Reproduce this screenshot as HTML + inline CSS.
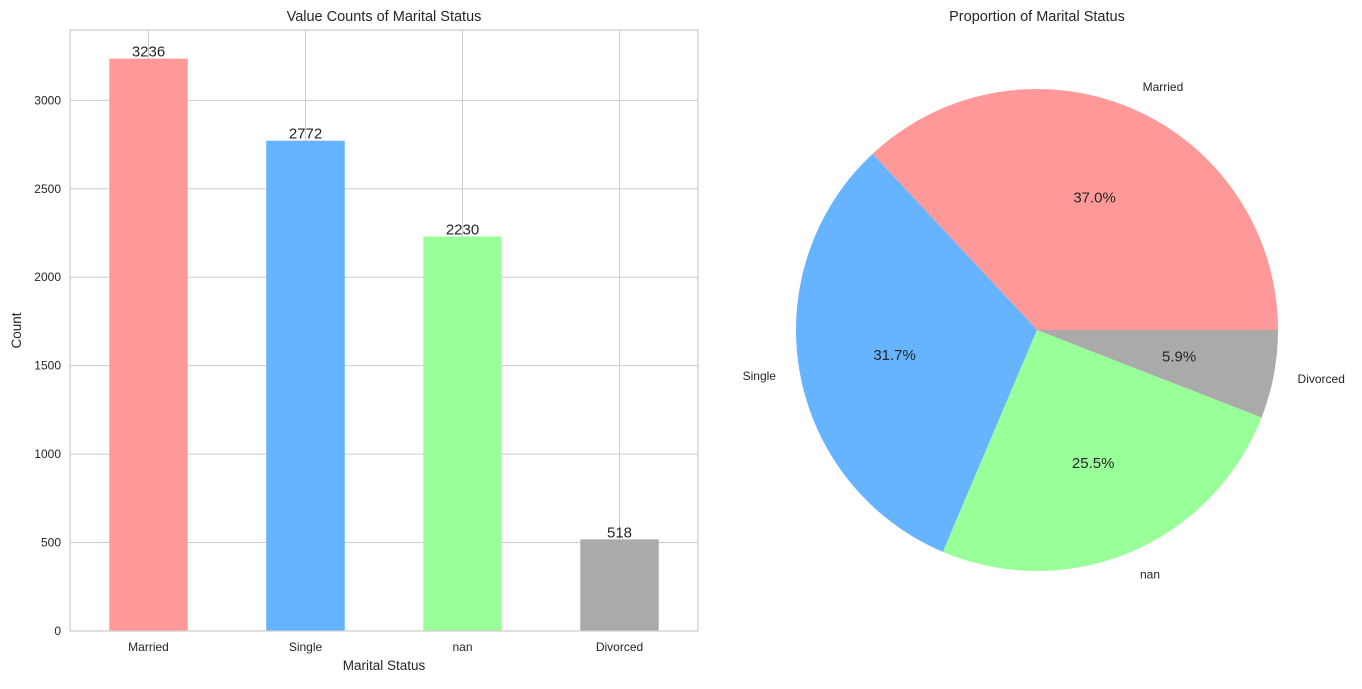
<!DOCTYPE html>
<html><head><meta charset="utf-8"><style>
body{margin:0;background:#fff;font-family:"Liberation Sans",sans-serif}
svg text{font-family:"Liberation Sans",sans-serif}
</style></head><body>
<svg id="s" width="1362" height="684" xmlns="http://www.w3.org/2000/svg"></svg>
<script>
const categories=["Married","Single","nan","Divorced"];
const counts=[3236,2772,2230,518];
const colors=["#ff9999","#66b3ff","#99ff99","#aaaaaa"];
const yTicks=[0,500,1000,1500,2000,2500,3000];
const NS="http://www.w3.org/2000/svg";
const s=document.getElementById('s');
function mk(t,a,txt){const e=document.createElementNS(NS,t);for(const k in a)e.setAttribute(k,a[k]);if(txt!==undefined)e.textContent=txt;s.appendChild(e);return e;}
const L=70,R=698,T=30,B=631;
const ymax=Math.max(...counts)*1.05;
const y=v=>B-(B-T)*v/ymax;
const x=i=>L+(R-L)*(i+0.5)/categories.length;
const bw=(R-L)/categories.length*0.5;
let e;
e=mk('rect',{x:L,y:T,width:R-L,height:B-T,fill:'#fff'});


yTicks.forEach(t=>{
 e=mk('line',{x1:L,x2:R,y1:y(t),y2:y(t),stroke:'#cccccc','stroke-width':1});
 
 
 e=mk('text',{x:L-9,y:y(t)+4,'text-anchor':'end','font-size':12,fill:'#262626'},t);
 
 
});
categories.forEach((c,i)=>{
 e=mk('line',{x1:x(i),x2:x(i),y1:T,y2:B,stroke:'#cccccc','stroke-width':1});
 
 
});
categories.forEach((c,i)=>{
 e=mk('rect',{x:x(i)-bw/2,y:y(counts[i]),width:bw,height:B-y(counts[i]),fill:colors[i]});
 
 
 e=mk('text',{x:x(i),y:y(counts[i])-2,'text-anchor':'middle','font-size':15,fill:'#262626'},counts[i]);
 
 
 e=mk('text',{x:x(i),y:B+20,'text-anchor':'middle','font-size':12,fill:'#262626'},c);
 
 
});
e=mk('rect',{x:L,y:T,width:R-L,height:B-T,fill:'none',stroke:'#cccccc','stroke-width':1.2});


e=mk('text',{x:(L+R)/2,y:21,'text-anchor':'middle','font-size':14.5,fill:'#262626'},'Value Counts of Marital Status');


e=mk('text',{x:(L+R)/2,y:670,'text-anchor':'middle','font-size':13.5,fill:'#262626'},'Marital Status');


e=mk('text',{x:21,y:(T+B)/2,'text-anchor':'middle','font-size':13.5,fill:'#262626',transform:'rotate(-90 21 '+(T+B)/2+')'},'Count');


// pie
const cx=1037,cy=330,r=241;
const total=counts.reduce((a,b)=>a+b,0);
let a0=0;
categories.forEach((c,i)=>{
 const frac=counts[i]/total,a1=a0+frac*2*Math.PI;
 const p=a=>[cx+r*Math.cos(a),cy-r*Math.sin(a)];
 const [x0,y0]=p(a0),[x1,y1]=p(a1);
 e=mk('path',{d:`M${cx},${cy}L${x0},${y0}A${r},${r} 0 ${frac>0.5?1:0} 0 ${x1},${y1}Z`,fill:colors[i]});
 
 
 const m=(a0+a1)/2,cs=Math.cos(m),sn=Math.sin(m);
 e=mk('text',{x:cx+1.1*r*cs,y:cy-1.1*r*sn+4,'text-anchor':cs>0?'start':'end','font-size':12,fill:'#262626'},c);
 
 
 e=mk('text',{x:cx+0.6*r*cs,y:cy-0.6*r*sn+5,'text-anchor':'middle','font-size':15,fill:'#262626'},(frac*100).toFixed(1)+'%');
 
 
 a0=a1;
});
e=mk('text',{x:cx,y:21,'text-anchor':'middle','font-size':14.5,fill:'#262626'},'Proportion of Marital Status');


</script>
</body></html>
